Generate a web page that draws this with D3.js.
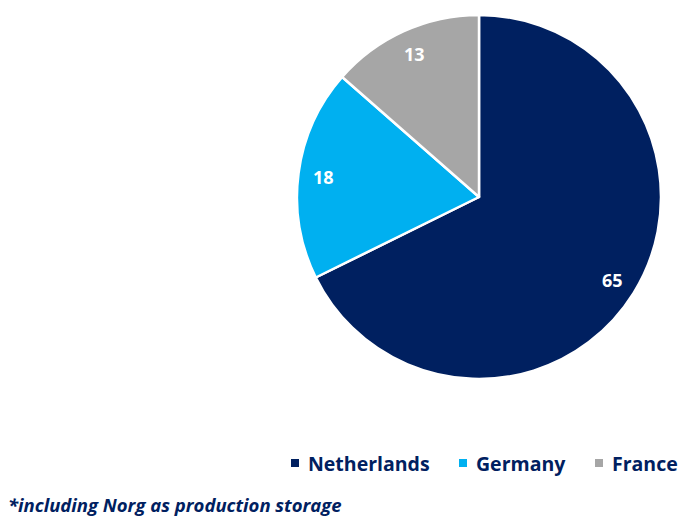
<!DOCTYPE html>
<html>
<head>
<meta charset="utf-8">
<script src="https://cdn.jsdelivr.net/npm/d3@7"></script>
<style>
  body { margin: 0; background: #fff; }
  svg { display: block; font-family: "Open Sans", Lato, sans-serif; }
</style>
</head>
<body>
<svg id="chart" width="678" height="518"></svg>
<script>
const countries = ["Netherlands", "Germany", "France"];
const shares = [65, 18, 13];
const colors = ["#002060", "#00B0F0", "#A6A6A6"];

const svg = d3.select("#chart");
const cx = 479, cy = 197, radius = 182;

const data = countries.map((c, i) => ({ name: c, value: shares[i] }));

const pie = d3.pie().value((d) => d.value).sort(null);
const arc = d3.arc().innerRadius(0).outerRadius(radius);
const labelArc = d3.arc().innerRadius(157).outerRadius(157);

const color = d3.scaleOrdinal().domain(countries).range(colors);

const g = svg.append("g").attr("transform", `translate(${cx},${cy})`);

g.selectAll("path")
  .data(pie(data))
  .join("path")
  .attr("d", arc)
  .attr("fill", (d) => color(d.data.name))
  .attr("stroke", "#fff")
  .attr("stroke-width", 2.5)
  .attr("stroke-linejoin", "round");

g.selectAll("text")
  .data(pie(data))
  .join("text")
  .attr("x", (d) => labelArc.centroid(d)[0])
  .attr("y", (d) => labelArc.centroid(d)[1])
  .attr("text-anchor", "middle")
  .attr("dominant-baseline", "central")
  .attr("fill", "#fff")
  .attr("font-weight", 700)
  .attr("font-size", 18)
  .text((d) => d.data.value);

// legend
const legendX = [291, 459, 595];
const legend = svg.append("g");
const items = legend.selectAll("g")
  .data(countries)
  .join("g")
  .attr("transform", (d, i) => `translate(${legendX[i]},463)`);

items.append("rect")
  .attr("x", 0)
  .attr("y", -4)
  .attr("width", 8)
  .attr("height", 8)
  .attr("fill", (d) => color(d));

items.append("text")
  .attr("x", 17)
  .attr("y", 0)
  .attr("dominant-baseline", "central")
  .attr("fill", "#002060")
  .attr("font-weight", 700)
  .attr("font-size", 19.5)
  .text((d) => d);

svg.append("text")
  .attr("x", 8)
  .attr("y", 512)
  .attr("fill", "#002060")
  .attr("font-weight", 700)
  .attr("font-style", "italic")
  .attr("font-size", 18.5)
  .text("*including Norg as production storage");
</script>
</body>
</html>
